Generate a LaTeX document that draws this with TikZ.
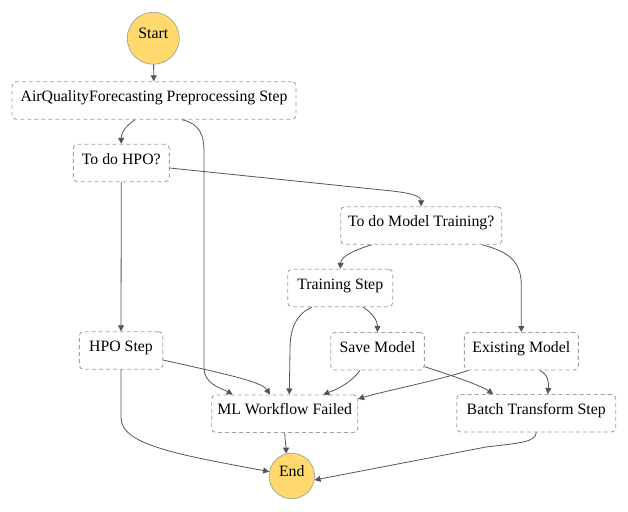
\documentclass[tikz,border=0pt]{standalone}
\usepackage{fontspec}
\setmainfont{Liberation Serif}
\usetikzlibrary{arrows.meta}
\definecolor{startfill}{HTML}{FFD96E}
\definecolor{boxline}{HTML}{A0A0A0}
\definecolor{edgecol}{HTML}{555555}
\tikzset{
  stepbox/.style={draw=boxline, dash pattern=on 4pt off 3pt, line width=0.9pt, rounded corners=4pt,
    minimum height=37.5pt, inner sep=0pt, text height=11pt, text depth=8.6pt,
    font=\fontsize{15.8}{18}\selectfont, fill=white},
  terminal/.style={circle, draw=gray!80, line width=0.6pt, fill=startfill, inner sep=0pt,
    text height=6pt, text depth=6pt, font=\fontsize{15.8}{18}\selectfont},
  conn/.style={draw=edgecol, line width=0.8pt, -{Triangle[length=6pt,width=6pt]}}
}
\begin{document}
\begin{tikzpicture}[x=1pt,y=-1pt]
\fill[white] (0,0) rectangle (628,511);
\useasboundingbox (0,0) rectangle (628,511);

\node[terminal, minimum size=52pt] (start) at (153.3,38.3) {Start};
\node[stepbox, minimum width=284pt] (pre) at (154,100.5) {AirQualityForecasting Preprocessing Step};
\node[stepbox, minimum width=96pt] (hpoq) at (121.3,163) {To do HPO?};
\node[stepbox, minimum width=161pt] (mtq) at (421.2,225.5) {To do Model Training?};
\node[stepbox, minimum width=105pt] (train) at (340.2,288) {Training Step};
\node[stepbox, minimum width=83.4pt] (hpo) at (121,350.5) {HPO Step};
\node[stepbox, minimum width=93.6pt] (save) at (377.5,351.2) {Save Model};
\node[stepbox, minimum width=114pt] (exist) at (521.3,351.2) {Existing Model};
\node[stepbox, minimum width=146pt] (fail) at (284.7,413.7) {ML Workflow Failed};
\node[stepbox, minimum width=159pt] (batch) at (536.2,413.2) {Batch Transform Step};
\node[terminal, minimum size=45.5pt] (end) at (291.8,476) {End};

% Start -> Preprocessing
\draw[conn] (start) -- (pre);
% Preprocessing -> To do HPO?
\draw[conn] ([xshift=-19pt]pre.south) .. controls (125,126) and (121,134) .. (hpoq.north);
% Preprocessing -> ML Workflow Failed
\draw[conn] ([xshift=28pt]pre.south) .. controls (200,124) and (204,135) .. (204,152)
  -- (204,368) .. controls (204,384) and (221,388) .. ([xshift=-52pt]fail.north);
% To do HPO? -> To do Model Training?
\draw[conn] ([yshift=-5pt]hpoq.east) -- (392,191) .. controls (410,193) and (421,196) .. (mtq.north);
% To do HPO? -> HPO Step
\draw[conn] (hpoq.south) -- (hpo.north);
% To do Model Training? -> Training Step
\draw[conn] ([xshift=-49.5pt]mtq.south) .. controls (355,250) and (341,256) .. (train.north);
% To do Model Training? -> Existing Model
\draw[conn] ([xshift=60.5pt]mtq.south) .. controls (510,252) and (521,262) .. (521.3,285) -- (exist.north);
% Training Step -> Save Model
\draw[conn] ([xshift=23pt]train.south) .. controls (372,313) and (377.5,320) .. (save.north);
% Training Step -> ML Workflow Failed
\draw[conn] ([xshift=-28.5pt]train.south) .. controls (295,315) and (290,330) .. (290,350) -- ([xshift=4.6pt]fail.north);
% HPO Step -> ML Workflow Failed
\draw[conn] ([yshift=-9.5pt]hpo.east) .. controls (230,375) and (262,382) .. ([xshift=-14.7pt]fail.north);
% HPO Step -> End
\draw[conn] (hpo.south) -- (121,418) .. controls (121,445) and (180,455) .. (end.169);
% Save Model -> ML Workflow Failed
\draw[conn] ([xshift=-17.5pt]save.south) .. controls (350,384) and (335,390) .. ([xshift=38.6pt]fail.north);
% Save Model -> Batch Transform Step
\draw[conn] ([yshift=-15.5pt]save.east) .. controls (450,375) and (480,385) .. ([xshift=-43pt]batch.north);
% Existing Model -> ML Workflow Failed
\draw[conn] ([xshift=-53pt]exist.south) .. controls (440,380) and (380,392) .. ([yshift=14.7pt]fail.east);
% Existing Model -> Batch Transform Step
\draw[conn] ([xshift=18.7pt]exist.south) .. controls (548,375) and (549,382) .. ([xshift=11.5pt]batch.north);
% ML Workflow Failed -> End
\draw[conn] (fail.south) .. controls (285,440) and (286,446) .. (end.104);
% Batch Transform Step -> End
\draw[conn] (batch.south) .. controls (536,442) and (520,443) .. (486,447) -- (end.-10);
\end{tikzpicture}
\end{document}
